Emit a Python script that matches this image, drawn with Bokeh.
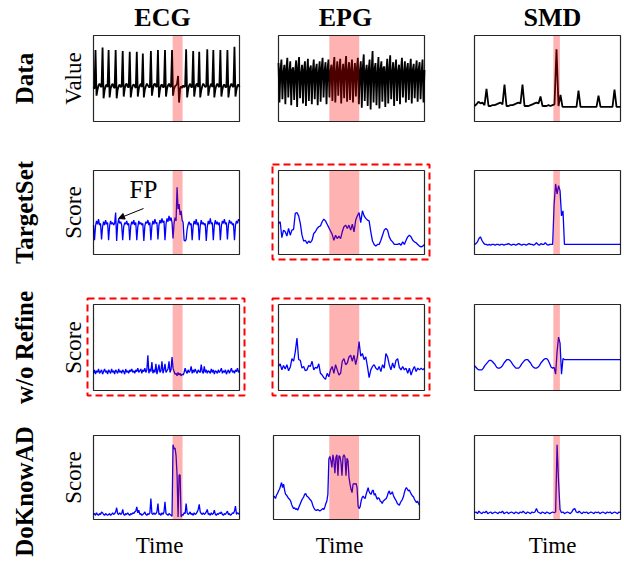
import math
from bokeh.plotting import figure
from bokeh.layouts import column, row
from bokeh.models import Range1d, BoxAnnotation, Label, Arrow, NormalHead
from bokeh.embed import file_html
from bokeh.resources import INLINE

# ---------------- text ----------------
col_titles = ["ECG", "EPG", "SMD"]
row_titles = ["Data", "TargetSet", "w/o Refine", "DoKnowAD"]
y_titles = ["Value", "Score", "Score", "Score"]
x_title = "Time"
fp_text = "FP"

# ---------------- data (values as read, 0-100 of panel height) ----------------
ecg_data = [40,38,83,30,37,42,44,41,40,86,27,36,41,43,40,83,28,38,42,44,
            40,39,83,27,37,41,43,40,41,82,29,38,43,44,40,40,81,28,37,42,
            43,41,39,81,29,38,42,44,40,79,28,37,41,44,42,40,40,82,30,38,
            43,44,41,40,83,28,37,42,43,40,40,83,29,38,42,44,41,40,83,30,
            38,41,42,44,53,22,38,41,39,42,40,41,84,28,37,42,44,40,40,82,
            29,38,43,44,40,81,28,36,41,44,42,40,41,84,30,38,42,44,40,83,
            28,37,42,44,41,40,83,29,37,42,43,40,40,83,28,38,42,44,41,40,
            87,29,37,42,43,40]
epg_data = [68,22,60,72,26,57,66,20,61,74,28,56,70,19,60,63,25,58,71,17,62,
            75,27,55,66,21,60,70,18,57,73,24,61,65,20,58,72,26,60,67,19,56,
            70,23,62,74,28,58,69,20,60,72,28,58,66,24,62,75,22,56,70,30,60,
            73,21,57,67,27,61,76,23,58,69,25,60,72,22,56,68,29,62,74,20,58,
            70,16,62,78,24,57,66,18,60,72,14,59,82,22,61,68,19,56,75,15,60,
            70,23,62,64,17,58,73,21,60,77,26,57,69,18,61,72,24,58,66,20,60,
            74,28,56,70,22,61,68,25,59,73,21,60,67,27,58,71,23,60,69,26,57,
            72,22,60]
smd_data = [18,20,23,21,22,19,38,18,18,19,19,20,21,22,20,43,18,18,19,19,
            20,21,22,21,43,18,18,18,19,20,21,22,21,29,18,18,18,19,18,19,
            20,84,18,31,17,17,17,17,17,17,17,17,36,17,17,17,17,17,17,17,
            17,17,30,17,17,17,17,17,17,17,37,17,17,17]

ts_ecg = [35,17,34,40,36,42,35,37,18,33,39,35,41,36,38,17,34,40,36,38,
          35,37,50,16,36,42,37,39,35,17,33,38,36,40,35,37,17,34,39,36,
          41,35,38,17,33,40,36,38,35,37,16,34,39,37,41,35,38,17,34,40,
          36,42,37,38,18,35,41,37,43,38,40,17,36,43,39,46,40,44,38,19,
          37,44,40,80,54,60,47,52,41,38,17,16,18,30,36,39,35,37,17,34,
          40,36,42,35,38,17,34,41,36,38,35,37,16,33,40,36,43,36,38,17,
          35,41,36,39,35,38,17,34,40,37,42,36,38,18,35,41,37,39,35,37,
          17,35,40,37,42,40]
ts_epg = [37,39,20,29,27,22,31,23,29,30,49,50,46,37,23,16,17,13,16,14,
          17,25,27,31,33,34,39,42,40,36,32,28,24,17,23,19,22,19,27,33,
          35,31,35,29,36,27,41,46,50,38,52,46,43,41,40,27,16,12,10,12,
          12,17,23,29,31,29,21,17,15,12,12,12,13,11,15,12,17,21,23,21,
          17,15,14,12,10,9,10,12]
ts_smd = [12,13,15,19,21,17,14,12,12,11,12,11,12,12,11,12,12,11,12,12,
          11,12,12,13,12,11,12,12,11,12,13,12,11,12,12,11,12,13,12,12,
          11,12,14,12,11,13,12,12,14,12,11,12,12,12,60,84,72,82,76,46,
          52,12,12,12,12,12,12,12,12,12,12,12,12,12,12,12,12,12,12,12,
          12,12,12,12,12,12,12,12,12,12,12,12,12,12,12,12,12,12,12,12]

wr_ecg = [20,24,19,23,21,25,20,22,24,19,22,25,21,23,19,24,22,20,25,21,
          23,19,24,22,20,25,21,23,20,24,22,19,25,21,23,20,24,22,25,21,
          23,20,24,22,26,21,23,25,20,24,22,26,21,24,41,20,25,22,33,20,
          24,21,31,19,24,30,21,23,34,20,24,31,21,23,25,34,21,24,39,26,
          22,19,20,17,21,18,20,17,19,18,21,26,22,20,24,21,23,28,20,24,
          21,25,22,20,24,22,21,30,22,20,28,21,24,20,23,22,20,25,21,24,
          19,23,22,20,24,21,23,26,20,23,21,24,19,22,24,20,23,26,21,23,
          20,24,22,26,21,23]
wr_epg = [28,31,24,29,25,30,23,27,37,34,45,61,36,35,26,28,23,24,29,28,
          34,24,27,26,31,20,18,15,13,20,16,24,28,20,30,24,18,20,34,37,
          30,32,39,41,34,41,30,39,57,40,43,36,39,28,15,24,28,30,26,24,
          28,22,30,26,43,39,30,24,32,26,35,37,27,24,28,24,26,20,26,18,
          24,28,22,26,24,26,24,26]
wr_smd = [29,27,25,24,24,24,26,29,31,33,35,35,34,32,30,27,26,26,27,29,
          32,34,36,36,35,33,30,28,26,26,26,28,31,33,35,36,36,34,32,29,
          27,26,26,27,29,32,34,36,37,37,35,31,27,26,27,19,45,62,55,19,
          37,36,36,36,36,36,36,36,36,36,36,36,36,36,36,36,36,36,36,36,
          36,36,36,36,36,36,36,36,36,36,36,36,36,36,36,36,36,36,36,36]

dk_ecg = [6,7,5,8,6,5,7,6,9,8,6,5,7,6,5,6,7,5,6,8,
          6,7,9,14,7,6,8,6,7,12,6,5,7,6,8,6,5,7,6,8,
          7,9,10,15,8,11,6,7,5,6,7,9,6,5,7,6,8,25,7,6,
          8,6,7,9,19,6,7,5,8,6,9,21,7,6,5,7,6,5,4,89,
          84,85,76,53,3,53,53,3,6,5,8,7,19,8,6,7,9,6,7,5,
          8,6,7,9,12,18,9,7,6,8,6,7,9,12,6,7,5,8,6,7,
          11,6,5,7,6,8,7,9,6,5,7,6,8,10,6,7,5,6,8,7,
          10,16,6,8,7,6]
dk_epg = [28,27,25,29,31,34,36,40,44,38,42,35,30,29,27,25,24,22,18,15,
          13,14,12,13,11,14,17,20,23,25,27,30,31,28,27,26,24,23,21,17,
          14,12,11,11,12,11,10,11,12,13,12,15,19,22,30,72,75,70,62,77,
          70,55,74,77,52,76,75,68,52,74,77,74,52,73,70,50,42,36,32,42,
          43,42,43,38,16,13,15,22,26,28,26,25,30,34,38,33,31,30,34,35,
          29,31,27,24,26,25,22,21,19,22,23,24,25,28,32,34,30,31,33,29,
          26,24,22,19,18,17,20,22,24,27,32,36,38,36,34,35,32,30,28,27,
          24,22,20,22,19,17]
dk_smd = [8,9,7,10,8,7,9,8,10,7,8,9,7,8,9,8,7,9,8,10,
          7,8,9,7,8,9,8,7,9,8,7,9,8,10,8,7,9,8,7,9,
          8,9,13,9,8,7,9,8,7,9,8,7,8,9,8,9,89,45,12,8,
          9,7,8,9,8,7,9,12,13,9,8,10,8,7,9,8,9,7,8,9,
          8,7,9,8,9,7,8,9,8,7,9,8,9,7,8,9,8,7,9,8]

# anomaly intervals (fraction of the time axis)
ecg_band = [0.542, 0.610]
epg_band = [0.348, 0.553]
epg_band_dk = [0.382, 0.586]
smd_band = [0.540, 0.585]

series = [[ecg_data, epg_data, smd_data],
          [ts_ecg, ts_epg, ts_smd],
          [wr_ecg, wr_epg, wr_smd],
          [dk_ecg, dk_epg, dk_smd]]
bands = [[ecg_band, epg_band, smd_band],
         [ecg_band, epg_band, smd_band],
         [ecg_band, epg_band, smd_band],
         [ecg_band, epg_band_dk, smd_band]]
boxed = {(1, 1), (2, 0), (2, 1)}

# ---------------- layout (pixels) ----------------
FW = 146
frame_h = [86, 84, 86, 84]
b_top = [35, 25, 25, 22]
b_bot = [24, 25, 23, 43]
b_left = [93, 20, 25]
b_right = [19, 25, 4]
title_dx = [-4, -6, 5]
time_dx = [-7, -7, 5]
SERIF = "Liberation Serif"

rows = []
for r in range(4):
    figs = []
    for c in range(3):
        vals = series[r][c]
        n = len(vals)
        t = [i / (n - 1) for i in range(n)]
        bl, br = b_left[c], b_right[c]
        if r == 3 and c == 1:
            bl, br = bl - 5, br + 5
        fh = frame_h[r]
        bt, bb = b_top[r], b_bot[r]
        W = bl + FW + br
        H = bt + fh + bb
        p = figure(width=W, height=H,
                   x_range=Range1d(-bl / FW, 1 + br / FW),
                   y_range=Range1d(-bb * 100 / fh, 100 + bt * 100 / fh),
                   x_axis_location=None, y_axis_location=None,
                   toolbar_location=None, output_backend="svg", title=None,
                   min_border_left=0, min_border_right=0,
                   min_border_top=0, min_border_bottom=0)
        p.xgrid.visible = False
        p.ygrid.visible = False
        p.outline_line_color = None
        p.background_fill_color = "white"
        p.border_fill_color = "white"
        if r == 0:
            p.line(t, vals, line_color="black", line_width=1.8)
        else:
            p.line(t, vals, line_color="#0000ff", line_width=1.3)
        band = bands[r][c]
        p.add_layout(BoxAnnotation(left=band[0], right=band[1], bottom=0, top=100,
                                   fill_color="red", fill_alpha=0.3, line_color=None))
        # panel frame
        p.add_layout(BoxAnnotation(left=0, right=1, bottom=0, top=100,
                                   fill_color=None, fill_alpha=0,
                                   line_color="black", line_width=1.2, line_alpha=0.85))
        if (r, c) in boxed:
            p.add_layout(BoxAnnotation(left=bl - 6, right=bl + FW + 5, bottom=bb - 5, top=bb + fh + 6,
                                       left_units="screen", right_units="screen",
                                       top_units="screen", bottom_units="screen",
                                       fill_color=None, fill_alpha=0,
                                       line_color="red", line_alpha=1.0,
                                       line_width=2, line_dash="7 4"))
        if r == 0:
            p.add_layout(Label(x=bl + FW / 2 + title_dx[c], y=bb + fh + 18,
                               x_units="screen", y_units="screen",
                               text=col_titles[c], text_align="center", text_baseline="middle",
                               text_font=SERIF, text_font_style="bold", text_font_size="26px",
                               text_color="black"))
        if r == 3:
            p.add_layout(Label(x=bl + FW / 2 + time_dx[c], y=bb - 26,
                               x_units="screen", y_units="screen",
                               text=x_title, text_align="center", text_baseline="middle",
                               text_font=SERIF, text_font_size="23px", text_color="black"))
        if c == 0:
            ry = bb + fh / 2 - (14 if r == 3 else 0)
            p.add_layout(Label(x=bl - 69, y=ry, x_units="screen", y_units="screen",
                               text=row_titles[r], angle=math.pi / 2,
                               text_align="center", text_baseline="middle",
                               text_font=SERIF, text_font_style="bold", text_font_size="25px",
                               text_color="black"))
            p.add_layout(Label(x=bl - 20, y=bb + fh / 2, x_units="screen", y_units="screen",
                               text=y_titles[r], angle=math.pi / 2,
                               text_align="center", text_baseline="middle",
                               text_font=SERIF, text_font_size="23px", text_color="black"))
        if r == 1 and c == 0:
            p.add_layout(Label(x=bl + 50, y=bb + 65, x_units="screen", y_units="screen",
                               text=fp_text, text_align="center", text_baseline="middle",
                               text_font=SERIF, text_font_size="25px", text_color="black"))
            p.add_layout(Arrow(end=NormalHead(size=6, fill_color="black", line_color="black",
                                              line_width=1),
                               x_start=bl + 50, y_start=bb + 46, x_end=bl + 25, y_end=bb + 36,
                               start_units="screen", end_units="screen",
                               line_color="black", line_width=1))
        figs.append(p)
    rows.append(row(*figs))

layout = column(*rows)
open("out.html", "w").write(file_html(layout, INLINE))
